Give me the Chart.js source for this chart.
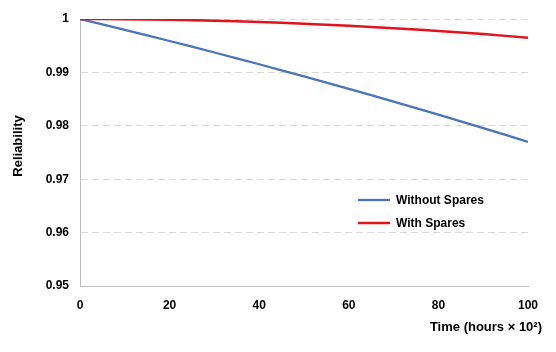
<!DOCTYPE html>
<html>
<head>
<meta charset="utf-8">
<script src="https://cdn.jsdelivr.net/npm/chart.js@4/dist/chart.umd.min.js"></script>
<style>
html,body{margin:0;padding:0;background:#fff;}
#wrap{width:556px;height:352px;}
</style>
</head>
<body>
<div id="wrap"><canvas id="c" width="556" height="352"></canvas></div>
<script>
// Time (hours x 10^2)
const times = [0, 10, 20, 30, 40, 50, 60, 70, 80, 90, 100];
const withoutSpares = [1, 0.99797, 0.99588, 0.99373, 0.99152, 0.98925, 0.98692, 0.98453, 0.98208, 0.97957, 0.9770];
const withSpares = [1, 0.99997, 0.99986, 0.99969, 0.99944, 0.99913, 0.99874, 0.99829, 0.99776, 0.99717, 0.9965];
const seriesNames = ['Without Spares', 'With Spares'];
const seriesColors = ['#4a74bb', '#e0141c'];
const xTicks = [0, 20, 40, 60, 80, 100];
const yTicks = [0.95, 0.96, 0.97, 0.98, 0.99, 1];
const xTitle = 'Time (hours \u00d7 10\u00b2)';
const yTitle = 'Reliability';

const FONT = '"Liberation Sans", Arial, sans-serif';

const pts = arr => times.map((t, i) => ({x: t, y: arr[i]}));

const customPlugin = {
  id: 'custom',
  afterDraw(chart) {
    const ctx = chart.ctx;
    const ca = chart.chartArea;
    ctx.save();
    ctx.fillStyle = '#000';
    // x title
    ctx.font = 'bold 13px ' + FONT;
    ctx.textAlign = 'right';
    ctx.textBaseline = 'middle';
    ctx.fillText(xTitle, ca.right + 14, 327);
    // y title
    ctx.save();
    ctx.translate(18, 146);
    ctx.rotate(-Math.PI / 2);
    ctx.textAlign = 'center';
    ctx.textBaseline = 'middle';
    ctx.fillText(yTitle, 0, 0);
    ctx.restore();
    // legend
    const rows = [[0, 200], [1, 223]];
    ctx.font = 'bold 12px ' + FONT;
    ctx.textAlign = 'left';
    rows.forEach(([i, y]) => {
      const ds = chart.data.datasets[i];
      ctx.strokeStyle = ds.borderColor;
      ctx.lineWidth = ds.borderWidth;
      ctx.beginPath();
      ctx.moveTo(358, y);
      ctx.lineTo(390, y);
      ctx.stroke();
      ctx.fillStyle = '#000';
      ctx.fillText(ds.label, 396, y + 0.5);
    });
    ctx.restore();
  }
};

new Chart(document.getElementById('c'), {
  type: 'line',
  data: {
    datasets: [
      {label: seriesNames[0], data: pts(withoutSpares), borderColor: seriesColors[0], borderWidth: 2.25, pointRadius: 0, tension: 0.3, fill: false, order: 1},
      {label: seriesNames[1], data: pts(withSpares), borderColor: seriesColors[1], borderWidth: 2.5, pointRadius: 0, tension: 0.3, fill: false, order: 0}
    ]
  },
  options: {
    responsive: false,
    animation: false,
    devicePixelRatio: 1,
    layout: {padding: {top: 19, right: 28, left: 0, bottom: 0}},
    plugins: {legend: {display: false}, tooltip: {enabled: false}},
    scales: {
      x: {
        type: 'linear',
        min: 0, max: 100,
        afterBuildTicks: s => { s.ticks = xTicks.map(v => ({value: v})); },
        afterFit: s => { s.height = 66; },
        grid: {display: false, drawTicks: false},
        border: {display: true, color: '#bfbfbf', width: 1},
        ticks: {padding: 12, color: '#000', font: {family: FONT, size: 12, weight: 'bold'}, maxRotation: 0}
      },
      y: {
        type: 'linear',
        min: 0.95, max: 1,
        afterBuildTicks: s => { s.ticks = yTicks.map(v => ({value: v})); },
        afterFit: s => { s.width = 80; },
        grid: {
          drawTicks: false,
          color: c => (c.tick && Math.abs(c.tick.value - 0.95) < 1e-9) ? 'rgba(0,0,0,0)' : '#d9d9d9',
          lineWidth: 1
        },
        border: {display: true, color: '#bfbfbf', width: 1, dash: [7, 4], dashOffset: 0},
        ticks: {
          padding: 11, color: '#000', font: {family: FONT, size: 12, weight: 'bold'},
          callback: v => String(parseFloat(Number(v).toFixed(2)))
        }
      }
    }
  },
  plugins: [customPlugin]
});
</script>
</body>
</html>
